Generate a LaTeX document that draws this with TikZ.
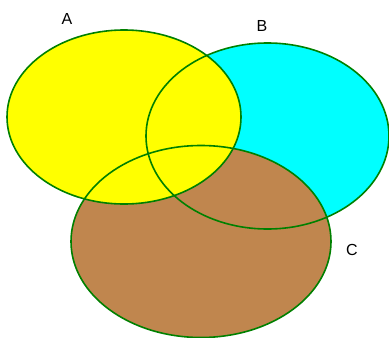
\documentclass[tikz,border=0pt]{standalone}
\usepackage{fontspec}
\setmainfont{Liberation Sans}
\definecolor{setyellow}{RGB}{255,255,0}
\definecolor{setcyan}{RGB}{0,255,255}
\definecolor{setbrown}{RGB}{192,134,78}
\definecolor{setgreen}{RGB}{0,128,0}
\tikzset{
  outline/.style={draw=setgreen, line width=1.6pt},
  setlabel/.style={font=\fontsize{16}{18}\selectfont}
}
\begin{document}
\begin{tikzpicture}[x=1pt, y=-1pt]
        \useasboundingbox (0,0) rectangle (389,338);

        % Fill the three sets (B, then C, then A on top)
        \fill[setcyan] (267.5,136) ellipse (121.5 and 93);
        \fill[setbrown] (201,241.5) ellipse (130 and 96);
        \fill[setyellow] (124,117) ellipse (117 and 87);

        % Outlines over all fills
        \draw[outline] (267.5,136) ellipse (121.5 and 93);
        \draw[outline] (201,241.5) ellipse (130 and 96);
        \draw[outline] (124,117) ellipse (117 and 87);

        % Label the sets
        \node[setlabel] (labelA) at (67,19) {A};
        \node[setlabel] (labelB) at (262,26) {B};
        \node[setlabel] (labelC) at (352,250) {C};
    \end{tikzpicture}
\end{document}
